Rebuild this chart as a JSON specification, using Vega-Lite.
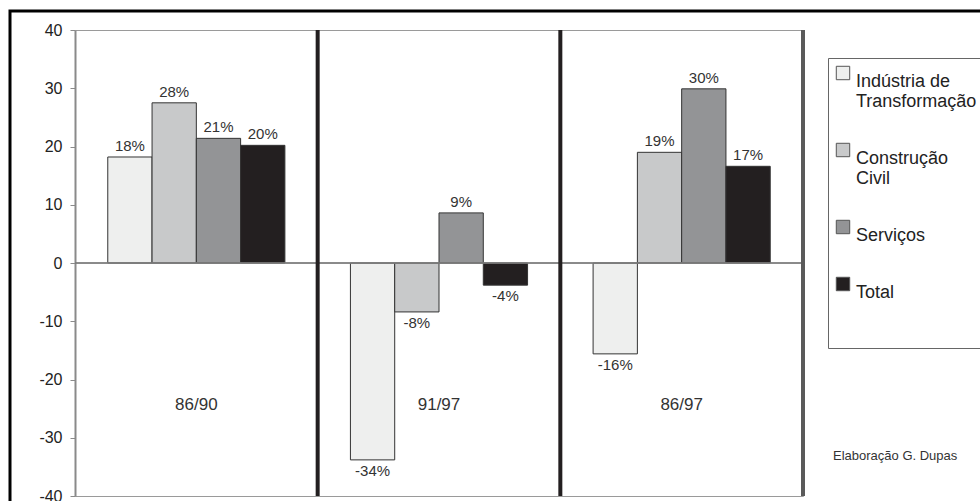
{
  "$schema": "https://vega.github.io/schema/vega-lite/v6.json",
  "width": 728,
  "height": 466,
  "autosize": {"type": "none"},
  "padding": {"left": 75, "top": 30, "right": 177, "bottom": 5},
  "background": "white",
  "config": {
    "font": "Liberation Sans",
    "view": {"stroke": "#9a9a9a", "strokeWidth": 1},
    "legend": {"strokeWidth": 3}
  },
  "datasets": {
    "barras": [
      {"periodo": "86/90", "setor": "Indústria de Transformação", "valor": 18.2, "rotulo": "18%"},
      {"periodo": "86/90", "setor": "Construção Civil", "valor": 27.5, "rotulo": "28%"},
      {"periodo": "86/90", "setor": "Serviços", "valor": 21.4, "rotulo": "21%"},
      {"periodo": "86/90", "setor": "Total", "valor": 20.2, "rotulo": "20%"},
      {"periodo": "91/97", "setor": "Indústria de Transformação", "valor": -33.8, "rotulo": "-34%"},
      {"periodo": "91/97", "setor": "Construção Civil", "valor": -8.4, "rotulo": "-8%"},
      {"periodo": "91/97", "setor": "Serviços", "valor": 8.6, "rotulo": "9%"},
      {"periodo": "91/97", "setor": "Total", "valor": -3.8, "rotulo": "-4%"},
      {"periodo": "86/97", "setor": "Indústria de Transformação", "valor": -15.6, "rotulo": "-16%"},
      {"periodo": "86/97", "setor": "Construção Civil", "valor": 19.0, "rotulo": "19%"},
      {"periodo": "86/97", "setor": "Serviços", "valor": 29.9, "rotulo": "30%"},
      {"periodo": "86/97", "setor": "Total", "valor": 16.6, "rotulo": "17%"}
    ],
    "periodos": [
      {"periodo": "86/90", "divisor": "interno"},
      {"periodo": "91/97", "divisor": "interno"},
      {"periodo": "86/97", "divisor": "borda"}
    ],
    "moldura": [{"moldura": "quadro", "credito": "fonte"}]
  },
  "layer": [
    {
      "data": {"name": "barras"},
      "mark": {"type": "bar", "stroke": "#333333", "strokeWidth": 1},
      "encoding": {
        "x": {
          "field": "periodo", "type": "nominal",
          "sort": ["86/90", "91/97", "86/97"],
          "scale": {"paddingInner": 0, "paddingOuter": 0},
          "axis": null
        },
        "xOffset": {
          "field": "setor", "type": "nominal",
          "sort": ["Indústria de Transformação", "Construção Civil", "Serviços", "Total"],
          "scale": {"paddingInner": 0, "paddingOuter": 0.74}
        },
        "y": {
          "field": "valor", "type": "quantitative",
          "scale": {"domain": [-40, 40], "nice": false, "zero": true},
          "axis": {
            "values": [-40, -30, -20, -10, 0, 10, 20, 30, 40],
            "title": null,
            "grid": false,
            "domainColor": "#8a8a8a",
            "domainWidth": 2,
            "tickColor": "#8a8a8a",
            "tickSize": 5,
            "tickWidth": 1,
            "labelColor": "#222222",
            "labelFontSize": 16,
            "labelPadding": 8,
            "labelExpr": "'' + datum.value"
          }
        },
        "fill": {
          "field": "setor", "type": "nominal",
          "sort": ["Indústria de Transformação", "Construção Civil", "Serviços", "Total"],
          "scale": {
            "domain": ["Indústria de Transformação", "Construção Civil", "Serviços", "Total"],
            "range": ["#eeefee", "#c8c9ca", "#939496", "#231f20"]
          },
          "legend": {
            "orient": "none",
            "legendX": 753,
            "legendY": 28,
            "title": null,
            "strokeColor": "#666666",
            "fillColor": "white",
            "padding": 6,
            "symbolType": "square",
            "symbolSize": 180,
            "symbolStrokeColor": "#555555",
            "symbolStrokeWidth": 1,
            "labelFontSize": 18,
            "labelColor": "#222222",
            "labelFont": "Liberation Sans",
            "labelBaseline": "top",
            "labelOffset": 4,
            "labelLimit": 300,
            "rowPadding": 30,
            "labelExpr": "datum.label == 'Indústria de Transformação' ? ['Indústria de', 'Transformação'] : datum.label == 'Construção Civil' ? ['Construção', 'Civil'] : datum.label == 'Total' ? ['Total', ' ', ' '] : datum.label",
            "encode": {"legend": {"update": {"strokeWidth": {"value": 1}}}}
          }
        }
      }
    },
    {
      "data": {"name": "barras"},
      "transform": [{"filter": "datum.valor >= 0"}],
      "mark": {"type": "text", "baseline": "middle", "dy": -11, "fontSize": 15, "color": "#333333"},
      "encoding": {
        "x": {"field": "periodo", "type": "nominal", "sort": ["86/90", "91/97", "86/97"]},
        "xOffset": {"field": "setor", "type": "nominal", "sort": ["Indústria de Transformação", "Construção Civil", "Serviços", "Total"]},
        "y": {"field": "valor", "type": "quantitative"},
        "text": {"field": "rotulo"}
      }
    },
    {
      "data": {"name": "barras"},
      "transform": [{"filter": "datum.valor < 0"}],
      "mark": {"type": "text", "baseline": "middle", "dy": 11, "fontSize": 15, "color": "#333333"},
      "encoding": {
        "x": {"field": "periodo", "type": "nominal", "sort": ["86/90", "91/97", "86/97"]},
        "xOffset": {"field": "setor", "type": "nominal", "sort": ["Indústria de Transformação", "Construção Civil", "Serviços", "Total"]},
        "y": {"field": "valor", "type": "quantitative"},
        "text": {"field": "rotulo"}
      }
    },
    {
      "data": {"name": "periodos"},
      "mark": {"type": "rule", "color": "#7a7a7a", "strokeWidth": 1},
      "encoding": {"y": {"datum": 0}}
    },
    {
      "data": {"name": "periodos"},
      "mark": {"type": "rule", "strokeWidth": 4},
      "encoding": {
        "x": {"field": "periodo", "type": "nominal", "sort": ["86/90", "91/97", "86/97"], "bandPosition": 1},
        "color": {
          "field": "divisor", "type": "nominal",
          "scale": {"domain": ["interno", "borda"], "range": ["#231f20", "#5a5a5a"]},
          "legend": null
        }
      }
    },
    {
      "data": {"name": "periodos"},
      "mark": {"type": "text", "fontSize": 17, "color": "#333333", "baseline": "middle"},
      "encoding": {
        "x": {"field": "periodo", "type": "nominal", "sort": ["86/90", "91/97", "86/97"]},
        "y": {"datum": -24.3},
        "text": {"field": "periodo"}
      }
    },
    {
      "data": {"name": "moldura"},
      "mark": {"type": "point", "opacity": 0},
      "encoding": {
        "shape": {
          "field": "moldura", "type": "nominal",
          "legend": {
            "orient": "none",
            "legendX": -65,
            "legendY": -19,
            "title": null,
            "padding": 700,
            "strokeColor": "#000000",
            "labelExpr": "''",
            "symbolOpacity": 0
          }
        },
        "size": {
          "field": "credito", "type": "ordinal",
          "legend": {
            "orient": "none",
            "legendX": 758,
            "legendY": 420,
            "title": "Elaboração G. Dupas",
            "titleFont": "Liberation Sans",
            "titleFontSize": 13,
            "titleFontWeight": "normal",
            "titleColor": "#333333",
            "titleLimit": 300,
            "padding": 0,
            "labelExpr": "''",
            "symbolOpacity": 0,
            "symbolStrokeWidth": 0,
            "encode": {"legend": {"update": {"strokeWidth": {"value": 0}}}}
          }
        }
      }
    }
  ]
}
